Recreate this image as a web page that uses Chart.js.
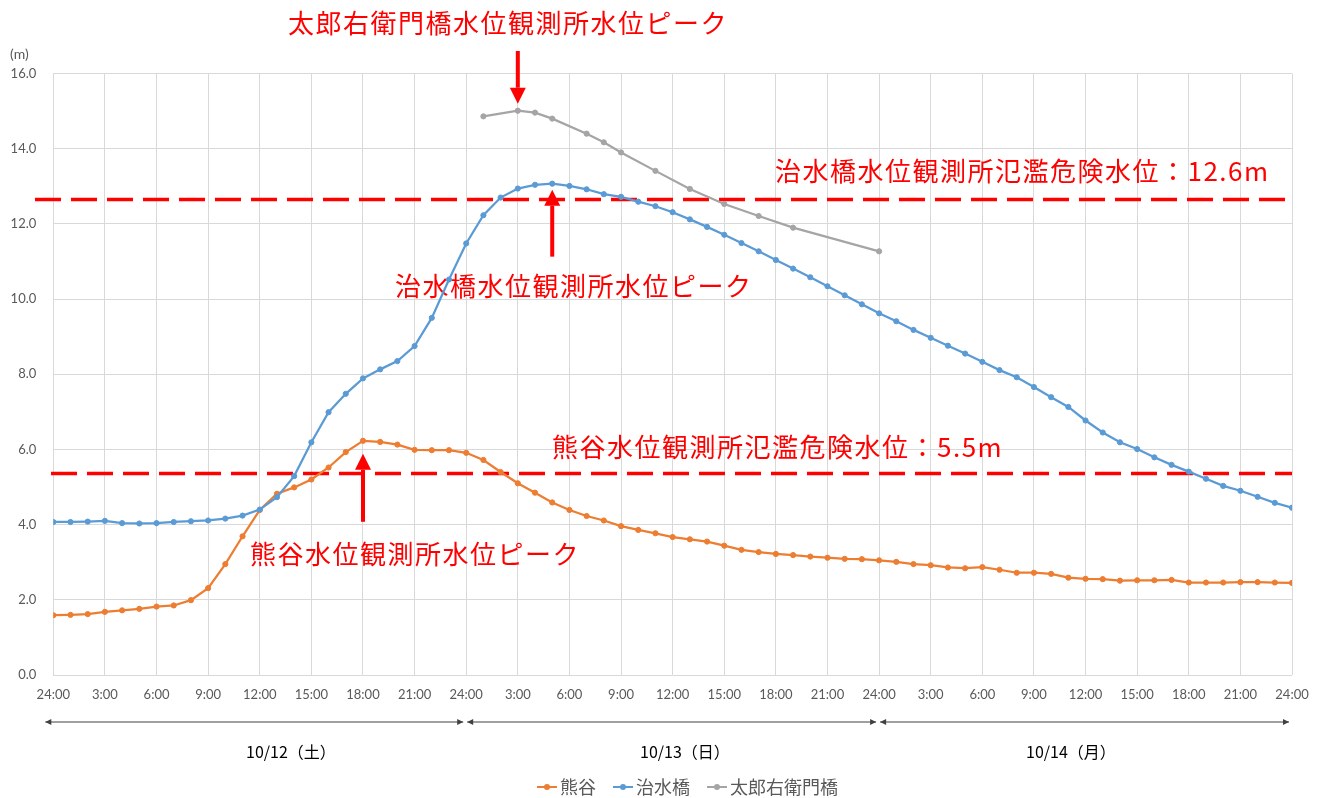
<!DOCTYPE html>
<html>
<head>
<meta charset="utf-8">
<script src="https://cdn.jsdelivr.net/npm/chart.js@4/dist/chart.umd.min.js"></script>
<style>
  body { margin: 0; background: #fff; }
  #wrap { width: 1324px; height: 798px; position: relative; }
</style>
</head>
<body>
<div id="wrap"><canvas id="chart"></canvas></div>
<script>
// hourly water levels (m), 10/12 0:00 ("24:00") .. 10/14 24:00
const tickLabels = ["24:00","3:00","6:00","9:00","12:00","15:00","18:00","21:00",
  "24:00","3:00","6:00","9:00","12:00","15:00","18:00","21:00",
  "24:00","3:00","6:00","9:00","12:00","15:00","18:00","21:00","24:00"];

const kumagaya = [1.59,1.60,1.62,1.68,1.72,1.76,1.82,1.85,1.99,2.31,
  2.95,3.69,4.39,4.82,4.99,5.20,5.52,5.93,6.23,6.20,
  6.13,5.99,5.98,5.98,5.91,5.72,5.40,5.10,4.85,4.59,
  4.39,4.23,4.11,3.96,3.86,3.77,3.67,3.61,3.55,3.44,
  3.33,3.27,3.22,3.19,3.15,3.12,3.09,3.08,3.05,3.01,
  2.95,2.92,2.86,2.84,2.87,2.80,2.72,2.72,2.69,2.59,
  2.56,2.55,2.51,2.52,2.52,2.53,2.46,2.46,2.46,2.47,
  2.47,2.46,2.45];

const jisuibashi = [4.07,4.07,4.08,4.10,4.04,4.03,4.04,4.07,4.09,4.11,
  4.16,4.24,4.40,4.73,5.29,6.19,6.99,7.48,7.89,8.13,
  8.35,8.75,9.50,10.52,11.48,12.23,12.70,12.94,13.04,13.07,
  13.01,12.92,12.79,12.72,12.59,12.47,12.31,12.12,11.92,11.71,
  11.49,11.27,11.04,10.81,10.58,10.34,10.10,9.86,9.62,9.41,
  9.18,8.97,8.76,8.55,8.33,8.11,7.92,7.66,7.39,7.13,
  6.77,6.45,6.19,6.01,5.79,5.59,5.41,5.22,5.03,4.90,
  4.74,4.58,4.45];

const N = null;
const taroemon = [N,N,N,N,N,N,N,N,N,N,
  N,N,N,N,N,N,N,N,N,N,
  N,N,N,N,N,14.86,N,15.01,14.96,14.80,
  N,14.40,14.17,13.90,N,13.41,N,12.93,N,12.53,
  N,12.21,N,11.90,N,N,N,N,11.27,N,
  N,N,N,N,N,N,N,N,N,N,
  N,N,N,N,N,N,N,N,N,N,
  N,N,N];

const seriesNames = ["熊谷", "治水橋", "太郎右衛門橋"];
const seriesColors = ["#ED7D31", "#5B9BD5", "#A5A5A5"];
const dangerLevels = [12.65, 5.36];        // drawn positions of the 氾濫危険水位 lines
const dayBounds = [0, 24, 48, 72];
const dayLabels = ["10/12（土）", "10/13（日）", "10/14（月）"];

const RED = "#FF0000";
const NOTE_FONT = "26px 'Noto Sans CJK JP'";

function toPoints(arr) { return arr.map((v, i) => ({ x: i, y: v })); }
function peakIndex(arr) {
  let best = -1;
  arr.forEach((v, i) => { if (v !== null && (best < 0 || v > arr[best])) best = i; });
  return best;
}

function arrow(ctx, x, tail, tip) {
  const dir = tip > tail ? 1 : -1;
  const headLen = 16, headHalf = 8;
  ctx.strokeStyle = RED; ctx.fillStyle = RED;
  ctx.lineWidth = 4; ctx.setLineDash([]);
  ctx.beginPath(); ctx.moveTo(x, tail); ctx.lineTo(x, tip - dir * headLen); ctx.stroke();
  ctx.beginPath();
  ctx.moveTo(x - headHalf, tip - dir * headLen);
  ctx.lineTo(x + headHalf, tip - dir * headLen);
  ctx.lineTo(x, tip);
  ctx.closePath(); ctx.fill();
}

function smallArrowLine(ctx, x1, x2, yy) {
  ctx.strokeStyle = "#404040"; ctx.fillStyle = "#404040"; ctx.lineWidth = 1;
  ctx.beginPath(); ctx.moveTo(x1, yy); ctx.lineTo(x2, yy); ctx.stroke();
  ctx.beginPath(); ctx.moveTo(x1, yy); ctx.lineTo(x1 + 6, yy - 3); ctx.lineTo(x1 + 6, yy + 3); ctx.closePath(); ctx.fill();
  ctx.beginPath(); ctx.moveTo(x2, yy); ctx.lineTo(x2 - 6, yy - 3); ctx.lineTo(x2 - 6, yy + 3); ctx.closePath(); ctx.fill();
}

const notes = {
  id: "notes",
  beforeDatasetsDraw(chart) {
    const { ctx, chartArea: a, scales: { x, y } } = chart;
    ctx.save();

    // danger level dashed lines
    const startX = [35, 51];
    dangerLevels.forEach((lv, i) => {
      const py = y.getPixelForValue(lv);
      ctx.strokeStyle = RED; ctx.lineWidth = 3.5; ctx.setLineDash([26, 10]);
      ctx.beginPath(); ctx.moveTo(startX[i], py); ctx.lineTo(a.right, py); ctx.stroke();
    });

    // peak arrows
    const pt = peakIndex(taroemon), pj = peakIndex(jisuibashi), pk = peakIndex(kumagaya);
    arrow(ctx, x.getPixelForValue(pt), 51, y.getPixelForValue(taroemon[pt]) - 7);
    const tj = y.getPixelForValue(jisuibashi[pj]) + 6;
    arrow(ctx, x.getPixelForValue(pj), tj + 67, tj);
    const tk = y.getPixelForValue(kumagaya[pk]) + 13;
    arrow(ctx, x.getPixelForValue(pk), tk + 68, tk);

    // red notes
    ctx.font = NOTE_FONT; ctx.fillStyle = RED;
    ctx.textAlign = "left"; ctx.textBaseline = "middle";
    ctx.letterSpacing = "1.5px";
    ctx.fillText("太郎右衛門橋水位観測所水位ピーク", 288, 23);
    ctx.fillText("治水橋水位観測所氾濫危険水位：12.6m", 775, 171);
    ctx.fillText("治水橋水位観測所水位ピーク", 395, 286);
    ctx.fillText("熊谷水位観測所氾濫危険水位：5.5m", 552, 447);
    ctx.fillText("熊谷水位観測所水位ピーク", 250, 554);
    ctx.letterSpacing = "0px";
    ctx.restore();
  },
  afterDraw(chart) {
    const { ctx, scales: { x } } = chart;
    ctx.save();
    // unit label
    ctx.font = "14px Lato"; ctx.fillStyle = "#595959";
    ctx.textAlign = "left"; ctx.textBaseline = "middle";
    ctx.fillText("(m)", 10, 54);

    // day spans
    const labelX = [246, 640, 1026];
    for (let i = 0; i < 3; i++) {
      const x1 = x.getPixelForValue(dayBounds[i]) + (i === 0 ? -8 : 1);
      const x2 = x.getPixelForValue(dayBounds[i + 1]) - 3;
      smallArrowLine(ctx, x1, x2, 722);
      ctx.font = "16px 'Noto Sans CJK JP'"; ctx.fillStyle = "#000";
      ctx.fillText(dayLabels[i], labelX[i], 752);
    }

    // legend
    let lx = 537;
    ctx.font = "18px 'Noto Sans CJK JP'";
    seriesNames.forEach((name, i) => {
      const c = seriesColors[i];
      ctx.strokeStyle = c; ctx.fillStyle = c; ctx.lineWidth = 2;
      ctx.beginPath(); ctx.moveTo(lx, 787); ctx.lineTo(lx + 20, 787); ctx.stroke();
      ctx.beginPath(); ctx.arc(lx + 10, 787, 3, 0, Math.PI * 2); ctx.fill();
      ctx.fillStyle = "#595959";
      ctx.fillText(name, lx + 23, 787);
      lx += 23 + ctx.measureText(name).width + 17;
    });
    ctx.restore();
  }
};

const series = [kumagaya, jisuibashi, taroemon];
new Chart(document.getElementById("chart"), {
  type: "line",
  data: {
    datasets: series.map((s, i) => ({
      label: seriesNames[i],
      data: toPoints(s),
      borderColor: seriesColors[i],
      backgroundColor: seriesColors[i],
      pointBackgroundColor: seriesColors[i],
      pointBorderColor: seriesColors[i],
      borderWidth: 2.25,
      pointRadius: 2.6,
      pointBorderWidth: 1,
      spanGaps: true,
      tension: 0,
      order: 3 - i
    }))
  },
  options: {
    responsive: true,
    maintainAspectRatio: false,
    animation: false,
    layout: { padding: { left: 0, right: 32, top: 73.5, bottom: 0 } },
    plugins: { legend: { display: false }, tooltip: { enabled: false } },
    scales: {
      x: {
        type: "linear", min: 0, max: 72,
        afterFit: s => { s.height = 123; },
        ticks: {
          stepSize: 3, autoSkip: false, maxRotation: 0, padding: 12,
          color: "#595959", font: { family: "Lato", size: 13 },
          callback: v => tickLabels[v / 3]
        },
        grid: { color: "#D9D9D9", drawTicks: false },
        border: { display: false }
      },
      y: {
        min: 0, max: 16,
        afterFit: s => { s.width = 53.3; },
        ticks: {
          stepSize: 2, padding: 17,
          color: "#595959", font: { family: "Lato", size: 13 },
          callback: v => v.toFixed(1)
        },
        grid: { color: "#D9D9D9", drawTicks: false },
        border: { display: false }
      }
    }
  },
  plugins: [notes]
});
</script>
</body>
</html>
